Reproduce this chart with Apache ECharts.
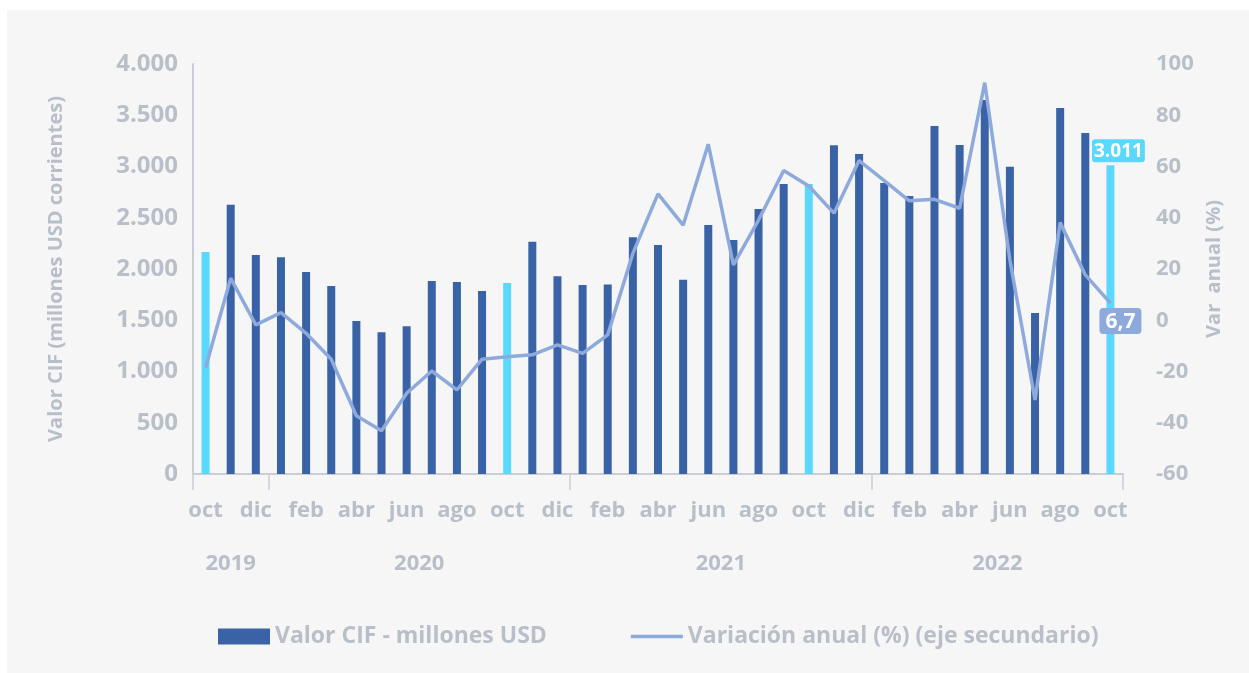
<!DOCTYPE html>
<html>
<head>
<meta charset="utf-8">
<script src="https://cdn.jsdelivr.net/npm/echarts@6/dist/echarts.min.js"></script>
<style>
  html, body { margin: 0; padding: 0; background: #ffffff; }
  #chart { position: absolute; left: 7px; top: 10px; width: 1242px; height: 663px; background: #f6f6f6; }
</style>
</head>
<body>
<div id="chart"></div>
<script>
// meses oct 2019 - oct 2022
const meses = ['oct','nov','dic',
  'ene','feb','mar','abr','may','jun','jul','ago','sep','oct','nov','dic',
  'ene','feb','mar','abr','may','jun','jul','ago','sep','oct','nov','dic',
  'ene','feb','mar','abr','may','jun','jul','ago','sep','oct'];
const anios = ['2019','2019','2019',
  '2020','2020','2020','2020','2020','2020','2020','2020','2020','2020','2020','2020',
  '2021','2021','2021','2021','2021','2021','2021','2021','2021','2021','2021','2021',
  '2022','2022','2022','2022','2022','2022','2022','2022','2022','2022'];
const valorCIF = [2166, 2628, 2137, 2114, 1971, 1834, 1493, 1382, 1441, 1883, 1873, 1785,
  1863, 2267, 1929, 1844, 1850, 2309, 2234, 1896, 2429, 2283, 2585, 2829,
  2830, 3207, 3122, 2839, 2712, 3395, 3210, 3649, 2998, 1571, 3571, 3327, 3011];
const varAnual = [-18.5, 16.4, -1.8, 3.0, -5.1, -15.2, -37.3, -43.1, -28.5, -19.8, -27.2, -15.2,
  -14.2, -13.5, -9.6, -12.9, -5.7, 26.1, 49.3, 37.1, 68.7, 21.6, 39.1, 58.4,
  52.4, 41.8, 62.3, 54.5, 46.6, 47.2, 43.7, 92.7, 23.5, -31.1, 38.1, 17.7, 6.7];

const gris = '#b8bfc9';
const azul = '#3a62a6';
const celeste = '#5bd8fd';
const lineaCol = '#8eaadc';
const fuente = 'Open Sans';

// limites y centros de cada año (en meses)
const years = [...new Set(anios)];
const yearStart = years.map(y => anios.indexOf(y));
const yearMid = years.map(y => (anios.indexOf(y) + anios.lastIndexOf(y) + 1) / 2);
const tickPos = yearStart.concat([meses.length]);

const fmtMiles = v => String(Math.round(v)).replace(/\B(?=(\d{3})+(?!\d))/g, '.');
const last = meses.length - 1;

const barData = valorCIF.map((v, i) => {
  const item = { value: v, itemStyle: { color: meses[i] === 'oct' ? celeste : azul } };
  if (i === last) {
    item.label = {
      show: true, position: 'top', distance: 3, offset: [8, 0],
      formatter: p => fmtMiles(p.value),
      color: '#fff', fontFamily: fuente, fontWeight: 'bold', fontSize: 19,
      backgroundColor: celeste, borderRadius: 3, padding: [3, 2, 1, 2]
    };
  }
  return item;
});
const lineData = varAnual.map((v, i) => {
  const item = { value: v };
  if (i === last) {
    item.label = {
      show: true, position: 'bottom', distance: 5, offset: [10, 0],
      formatter: p => String(p.value).replace('.', ','),
      color: '#fff', fontFamily: fuente, fontWeight: 'bold', fontSize: 21,
      backgroundColor: lineaCol, borderRadius: 4, padding: [3, 6, 2, 6]
    };
  }
  return item;
});

const chart = echarts.init(document.getElementById('chart'));
chart.setOption({
  animation: false,
  textStyle: { fontFamily: fuente },
  grid: { left: 186, right: 126, top: 54, bottom: 199 },
  legend: {
    left: 206, top: 610, itemGap: 84, itemWidth: 52, itemHeight: 16,
    textStyle: { color: gris, fontSize: 23, fontWeight: 'bold', fontFamily: fuente },
    data: [
      { name: 'Valor CIF - millones USD', icon: 'rect' },
      { name: 'Variación anual (%) (eje secundario)', icon: 'path://M0,0H58V4H0Z' }
    ]
  },
  xAxis: [
    {
      type: 'category', data: meses,
      axisLine: { lineStyle: { color: '#c9ced6', width: 2 } },
      axisTick: { show: false },
      axisLabel: {
        interval: 1, margin: 26, color: gris, fontSize: 22, fontWeight: 'bold', fontFamily: fuente
      }
    },
    {
      type: 'value', min: 0, max: meses.length, position: 'bottom',
      axisLine: { show: false, onZero: false },
      splitLine: { show: false },
      axisTick: { show: true, customValues: tickPos, length: 16, lineStyle: { color: '#c9ced6', width: 1.5 } },
      axisLabel: {
        customValues: yearMid, margin: 79, color: gris, fontSize: 22, fontWeight: 'bold', fontFamily: fuente,
        formatter: v => years[yearMid.indexOf(v)] || ''
      }
    }
  ],
  yAxis: [
    {
      type: 'value', min: 0, max: 4000, interval: 500,
      name: 'Valor CIF (millones USD corrientes)', nameLocation: 'middle', nameRotate: 90, nameGap: 127,
      nameTextStyle: { color: gris, fontSize: 20, fontWeight: 'bold', fontFamily: fuente },
      axisLine: { show: true, lineStyle: { color: '#c9ced6', width: 2 } },
      axisTick: { show: false },
      splitLine: { show: false },
      axisLabel: { margin: 15, color: gris, fontSize: 24, fontWeight: 'bold', fontFamily: fuente, formatter: fmtMiles }
    },
    {
      type: 'value', min: -60, max: 100, interval: 20, position: 'right',
      name: 'Var  anual (%)', nameLocation: 'middle', nameRotate: 90, nameGap: 80,
      nameTextStyle: { color: gris, fontSize: 20, fontWeight: 'bold', fontFamily: fuente },
      axisLine: { show: false },
      axisTick: { show: false },
      splitLine: { show: false },
      axisLabel: { margin: 33, color: gris, fontSize: 22, fontWeight: 'bold', fontFamily: fuente }
    }
  ],
  series: [
    {
      name: 'Valor CIF - millones USD', type: 'bar', barWidth: 8,
      itemStyle: { color: azul },
      data: barData, z: 2
    },
    {
      name: 'Variación anual (%) (eje secundario)', type: 'line', yAxisIndex: 1,
      symbol: 'circle', symbolSize: 0, showSymbol: true,
      lineStyle: { color: lineaCol, width: 3.5 },
      itemStyle: { color: lineaCol },
      data: lineData, z: 3
    }
  ]
});
</script>
</body>
</html>
